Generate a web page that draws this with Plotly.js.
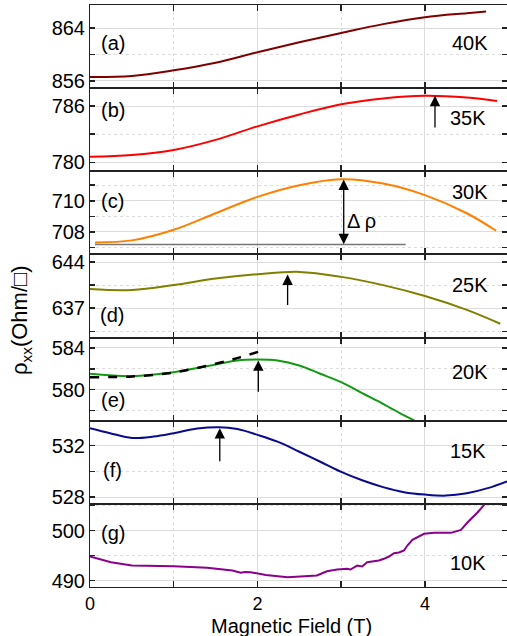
<!DOCTYPE html>
<html><head><meta charset="utf-8">
<script src="https://cdn.plot.ly/plotly-3.0.1.min.js"></script>
<style>html,body{margin:0;padding:0;background:#fff}</style>
</head><body><div id="chart" style="width:507px;height:636px"></div>
<script>
// ---- data ----
const panelLabels = ['(a)','(b)','(c)','(d)','(e)','(f)','(g)'];
const tempLabels = ['40K','35K','30K','25K','20K','15K','10K'];
const colors = ['#7f0000','#ff0000','#ff8000','#808000','#119911','#0a0a8c','#8b008b'];

const xA = [0,0.5,1,1.5,2,2.5,3,3.5,4,4.5,4.73];
const yA = [856.6,856.75,857.6,858.75,860.35,861.85,863.25,864.6,865.65,866.25,866.5];

const xB = [0,0.5,1,1.5,2,2.5,3,3.5,4,4.5,4.86];
const yB = [780.6,780.79,781.33,782.4,783.84,785.1,786.18,786.8,787.08,786.9,786.54];

const xC = [0.06,0.5,1,1.5,2,2.5,3,3.5,4,4.5,4.85];
const yC = [707.33,707.46,708.14,709.2,710.25,711.0,711.38,711.1,710.36,709.2,708.08];
const xCbase = [0.06,3.77];
const yCbase = [707.2,707.2];

const xD = [0,0.5,1,1.5,2,2.5,3,3.5,4,4.5,4.9];
const yD = [639.9,639.75,640.5,641.5,642.15,642.5,641.75,640.5,638.85,636.75,634.65];

const xE = [0,0.5,1,1.5,1.76,2,2.24,2.5,2.75,3,3.25,3.5,3.75,3.89,3.95];
const yE = [581.52,581.29,581.67,582.41,582.8,582.89,582.8,582.32,581.52,580.71,579.65,578.63,577.51,576.93,576.5];
const xEfit = [0,0.5,1,1.5,1.8,2.02];
const yEfit = [581.19,581.26,581.64,582.48,583.12,583.66];

const xF = [0,0.24,0.5,0.76,1,1.28,1.54,1.76,2,2.24,2.5,2.75,3,3.25,3.5,3.75,4,4.25,4.5,4.75,4.98];
const yF = [533.36,532.97,532.6,532.71,532.97,533.33,533.44,533.29,532.84,532.31,531.53,530.75,529.96,529.31,528.78,528.39,528.2,528.12,528.3,528.7,529.23];

const xG = [0,0.25,0.5,1,1.4,1.7,1.8,1.85,1.92,2.1,2.36,2.6,2.71,2.83,2.95,3.07,3.11,3.19,3.25,3.31,3.45,3.51,3.57,3.63,3.69,3.75,3.79,3.85,3.92,3.99,4.11,4.31,4.43,4.51,4.63,4.71];
const yG = [494.8,493.66,493.0,492.86,492.54,492.0,491.54,491.7,491.66,491.1,490.66,490.86,491.0,491.86,492.2,492.34,492.2,493.0,492.8,493.66,494.0,494.34,494.8,495.46,495.6,496.0,497.0,498.14,498.8,499.34,499.54,499.54,500.14,501.66,503.66,505.2];

// y-axis settings per panel
const yRanges = [[854.9,867.5],[779.06,787.9],[706.56,711.89],[632.55,645.15],[577.0,585.0],[527.48,533.94],[488.7,505.34]];
const yTick0 = [856,780,708,637,580,528,490];
const yDtick = [8,6,2,7,4,4,10];

// arrows: [panel, x, headY, tailY]
const arrows = [[2,4.12,787.08,783.56],[4,2.36,642.1,637.25],[5,2.01,582.8,579.65],[6,1.55,533.36,530.67]];
const dArrow = {panel:3, x:3.03, top:711.36, bottom:707.12};

// ---- build ----
const xs = [xA,xB,xC,xD,xE,xF,xG];
const ys = [yA,yB,yC,yD,yE,yF,yG];
const ax = k => k===1 ? '' : String(k);
const traces = [];
for (let k=1;k<=7;k++){
  traces.push({x:xs[k-1], y:ys[k-1], xaxis:'x'+ax(k), yaxis:'y'+ax(k), mode:'lines',
    line:{color:colors[k-1], width:2, shape: k===7 ? 'linear' : 'spline', smoothing:1}, hoverinfo:'skip'});
}
traces.push({x:xCbase, y:yCbase, xaxis:'x3', yaxis:'y3', mode:'lines', line:{color:'#777', width:1.5}});
traces.push({x:xEfit, y:yEfit, xaxis:'x5', yaxis:'y5', mode:'lines', line:{color:'#000', width:2.5, dash:'dash', shape:'spline'}});

const T = 5, B = 587, L = 90, R = 507;
const px = v => (v-L)/(R-L);
const py = v => (B-v)/(B-T);

const layout = {
  width:507, height:636, margin:{l:90, r:0, t:5, b:49},
  showlegend:false, plot_bgcolor:'#fff', paper_bgcolor:'#fff',
  font:{family:'"Liberation Sans", Arial, sans-serif', size:20, color:'#000'},
  annotations:[], shapes:[]
};
for (let k=1;k<=7;k++){
  layout['xaxis'+ax(k)] = {
    domain:[0,1], anchor:'y'+ax(k), range:[0,4.98], tick0:0, dtick:2,
    ticks:'inside', ticklen:6, tickcolor:'#222', tickwidth:1.5,
    mirror:'ticks', showline:true, linecolor:'#222', linewidth:1,
    showgrid:true, gridcolor:'#dcdcdc', gridwidth:1, zeroline:false,
    minor:{dtick:1, ticks:'inside', ticklen:6, tickcolor:'#222', showgrid:true, gridcolor:'#dcdcdc', griddash:'dot'},
    showticklabels: k===7, tickfont:{size:18}, ticklabelstandoff:0
  };
  layout['yaxis'+ax(k)] = {
    domain:[1-k/7, 1-(k-1)/7], anchor:'x'+ax(k), range:yRanges[k-1],
    tick0:yTick0[k-1], dtick:yDtick[k-1],
    ticks:'inside', ticklen:5, tickcolor:'#222', tickwidth:1.5,
    mirror:'ticks', showline:true, linecolor:'#222', linewidth:1,
    showgrid:true, gridcolor:'#dcdcdc', zeroline:false,
    minor:{dtick:yDtick[k-1]/2, ticks:'inside', ticklen:5, tickcolor:'#222', showgrid:true, gridcolor:'#dcdcdc', griddash:'dot'},
    tickfont:{size:20}
  };
}
// panel and temperature labels (pixel placement)
const lblPos = [[113,43,470,43],[113,110,468,118],[112,201,470,192],[112,315,470,285],[113,400,470,372],[112,470,468,451],[113,533,468,563]];
for (let k=0;k<7;k++){
  const p = lblPos[k];
  layout.annotations.push({xref:'paper', yref:'paper', x:px(p[0]), y:py(p[1]), text:panelLabels[k], showarrow:false, xanchor:'center', yanchor:'middle', font:{size:20}});
  layout.annotations.push({xref:'paper', yref:'paper', x:px(p[2]), y:py(p[3]), text:tempLabels[k], showarrow:false, xanchor:'center', yanchor:'middle', font:{size:20}});
}
// arrows
for (const a of arrows){
  const k = a[0];
  layout.annotations.push({xref:'x'+ax(k), yref:'y'+ax(k), axref:'x'+ax(k), ayref:'y'+ax(k),
    x:a[1], y:a[2], ax:a[1], ay:a[3], text:'', showarrow:true, arrowhead:2, arrowsize:1.6, arrowwidth:1.3, arrowcolor:'#000', standoff:0});
}
layout.annotations.push({xref:'x3', yref:'y3', axref:'x3', ayref:'y3', x:dArrow.x, y:dArrow.top, ax:dArrow.x, ay:dArrow.bottom,
  text:'', showarrow:true, arrowhead:2, startarrowhead:2, arrowside:'end+start', arrowsize:1.6, startarrowsize:1.6, arrowwidth:1.3, arrowcolor:'#000', standoff:0, startstandoff:0});
layout.annotations.push({xref:'paper', yref:'paper', x:px(361), y:py(221), text:'Δ ρ', showarrow:false, xanchor:'center', yanchor:'middle', font:{size:20}});
// axis titles
layout.annotations.push({xref:'paper', yref:'paper', x:px(291), y:py(626), text:'Magnetic Field (T)', showarrow:false, xanchor:'center', yanchor:'middle', font:{size:20}});
layout.annotations.push({xref:'paper', yref:'paper', x:px(21), y:py(320), text:'ρ<sub>xx</sub>(Ohm/□)', textangle:-90, showarrow:false, xanchor:'center', yanchor:'middle', font:{size:22}});

Plotly.newPlot('chart', traces, layout, {displayModeBar:false, staticPlot:true});
</script></body></html>
